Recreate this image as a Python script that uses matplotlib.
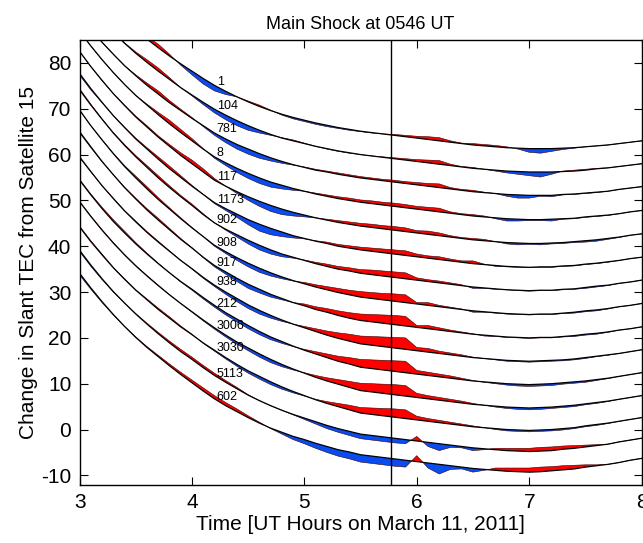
import matplotlib
matplotlib.use("Agg")
import matplotlib.pyplot as plt
import numpy as np

plt.rcParams['font.family'] = ['Liberation Sans', 'DejaVu Sans']
plt.rcParams['axes.unicode_minus'] = False

hours = [3.0, 3.1, 3.2, 3.3, 3.4, 3.5, 3.6, 3.7, 3.8, 3.9,
         4.0, 4.1, 4.2, 4.3, 4.4, 4.5, 4.6, 4.7, 4.8, 4.9,
         5.0, 5.1, 5.2, 5.3, 5.4, 5.5, 5.6, 5.7, 5.8, 5.9,
         6.0, 6.1, 6.2, 6.3, 6.4, 6.5, 6.6, 6.7, 6.8, 6.9,
         7.0, 7.1, 7.2, 7.3, 7.4, 7.5, 7.6, 7.7, 7.8, 7.9,
         8.0]

stations = ['1', '104', '781', '8', '117', '1173', '902', '908', '917',
            '938', '212', '3006', '3030', '5113', '602']

# smooth fitted slant TEC curve of each station (vertically stacked)
fit_1 = [100.2, 97.2, 94.4, 91.8, 89.4, 87.2, 85.2, 83.3, 81.5, 79.8,
         78.2, 76.6, 75.1, 73.8, 72.6, 71.5, 70.5, 69.6, 68.8, 68.1,
         67.5, 66.9, 66.4, 65.9, 65.5, 65.1, 64.8, 64.5, 64.2, 63.9,
         63.6, 63.3, 63.0, 62.7, 62.4, 62.1, 61.9, 61.7, 61.5, 61.4,
         61.3, 61.3, 61.3, 61.4, 61.5, 61.7, 61.9, 62.1, 62.4, 62.7, 63.0]
fit_104 = [95.2, 92.2, 89.4, 86.8, 84.3, 82.1, 80.1, 78.2, 76.4, 74.6,
           73.0, 71.4, 69.9, 68.6, 67.4, 66.3, 65.3, 64.4, 63.6, 63.0,
           62.4, 61.8, 61.3, 60.8, 60.4, 60.0, 59.7, 59.4, 59.1, 58.8,
           58.5, 58.2, 57.9, 57.6, 57.3, 57.0, 56.8, 56.6, 56.4, 56.3,
           56.2, 56.2, 56.2, 56.3, 56.4, 56.6, 56.9, 57.1, 57.4, 57.7, 58.0]
fit_781 = [90.4, 87.4, 84.5, 81.9, 79.4, 77.2, 75.1, 73.2, 71.3, 69.6,
           67.9, 66.3, 64.7, 63.4, 62.2, 61.2, 60.2, 59.3, 58.5, 57.8,
           57.2, 56.6, 56.2, 55.7, 55.3, 54.9, 54.6, 54.3, 54.0, 53.7,
           53.4, 53.1, 52.8, 52.5, 52.2, 51.9, 51.7, 51.5, 51.3, 51.2,
           51.1, 51.1, 51.1, 51.3, 51.4, 51.6, 51.8, 52.0, 52.4, 52.7, 53.0]
fit_8 = [86.9, 83.7, 80.7, 77.9, 75.3, 72.9, 70.8, 68.7, 66.7, 64.8,
         63.0, 61.2, 59.5, 58.2, 57.0, 55.9, 54.9, 54.0, 53.3, 52.6,
         52.0, 51.4, 50.9, 50.4, 50.0, 49.6, 49.3, 49.0, 48.7, 48.4,
         48.1, 47.8, 47.5, 47.2, 46.9, 46.6, 46.4, 46.2, 46.0, 45.9,
         45.8, 45.8, 45.9, 46.0, 46.1, 46.4, 46.6, 46.8, 47.1, 47.5, 47.8]
fit_117 = [82.5, 79.2, 76.2, 73.3, 70.7, 68.2, 66.0, 63.8, 61.8, 59.8,
           58.0, 56.2, 54.4, 53.1, 51.9, 50.8, 49.8, 48.9, 48.1, 47.4,
           46.8, 46.2, 45.7, 45.2, 44.8, 44.4, 44.1, 43.8, 43.5, 43.2,
           42.9, 42.6, 42.3, 42.0, 41.7, 41.4, 41.2, 41.0, 40.8, 40.7,
           40.6, 40.6, 40.7, 40.8, 41.0, 41.2, 41.4, 41.7, 42.0, 42.4, 42.7]
fit_1173 = [77.7, 74.4, 71.4, 68.5, 65.9, 63.4, 61.2, 59.0, 56.9, 55.0,
            53.1, 51.3, 49.5, 48.2, 47.0, 45.8, 44.8, 43.9, 43.1, 42.3,
            41.7, 41.1, 40.6, 40.0, 39.6, 39.2, 38.9, 38.6, 38.3, 38.0,
            37.7, 37.4, 37.1, 36.8, 36.5, 36.2, 36.0, 35.8, 35.6, 35.5,
            35.4, 35.5, 35.5, 35.7, 35.8, 36.1, 36.3, 36.6, 36.9, 37.3, 37.6]
fit_902 = [74.1, 70.8, 67.7, 64.7, 62.0, 59.5, 57.2, 54.9, 52.8, 50.8,
           48.9, 46.9, 45.1, 43.7, 42.5, 41.3, 40.2, 39.2, 38.3, 37.6,
           36.9, 36.2, 35.6, 35.0, 34.6, 34.1, 33.8, 33.5, 33.2, 32.9,
           32.6, 32.3, 32.0, 31.7, 31.4, 31.1, 30.9, 30.7, 30.5, 30.4,
           30.3, 30.4, 30.4, 30.6, 30.7, 31.0, 31.3, 31.5, 31.9, 32.2, 32.6]
fit_908 = [69.7, 66.3, 63.2, 60.2, 57.4, 54.9, 52.5, 50.2, 48.1, 46.0,
           44.0, 42.1, 40.2, 38.8, 37.5, 36.3, 35.2, 34.2, 33.3, 32.5,
           31.8, 31.1, 30.5, 29.9, 29.4, 28.9, 28.6, 28.3, 28.0, 27.7,
           27.4, 27.1, 26.8, 26.5, 26.2, 25.9, 25.7, 25.5, 25.3, 25.2,
           25.1, 25.2, 25.2, 25.4, 25.6, 25.9, 26.1, 26.4, 26.8, 27.1, 27.5]
fit_917 = [65.0, 61.7, 58.5, 55.6, 52.8, 50.3, 47.9, 45.7, 43.6, 41.5,
           39.6, 37.6, 35.8, 34.4, 33.0, 31.7, 30.6, 29.5, 28.6, 27.7,
           27.0, 26.2, 25.6, 24.9, 24.3, 23.8, 23.5, 23.2, 22.9, 22.6,
           22.3, 22.0, 21.7, 21.4, 21.1, 20.8, 20.6, 20.4, 20.2, 20.1,
           20.0, 20.1, 20.1, 20.3, 20.5, 20.8, 21.0, 21.3, 21.7, 22.0, 22.4]
fit_938 = [59.5, 56.3, 53.2, 50.4, 47.7, 45.3, 43.0, 40.9, 38.9, 36.9,
           35.1, 33.2, 31.5, 30.0, 28.6, 27.2, 26.0, 24.9, 23.9, 23.0,
           22.2, 21.4, 20.6, 19.9, 19.3, 18.7, 18.4, 18.1, 17.8, 17.5,
           17.2, 16.9, 16.6, 16.3, 16.0, 15.7, 15.5, 15.3, 15.1, 15.0,
           14.9, 15.0, 15.1, 15.2, 15.4, 15.7, 16.0, 16.3, 16.6, 17.0, 17.4]
fit_212 = [54.4, 51.2, 48.2, 45.4, 42.9, 40.5, 38.3, 36.2, 34.2, 32.3,
           30.6, 28.8, 27.1, 25.5, 24.1, 22.7, 21.4, 20.2, 19.2, 18.2,
           17.3, 16.5, 15.7, 14.9, 14.3, 13.6, 13.3, 13.0, 12.7, 12.4,
           12.1, 11.8, 11.5, 11.2, 10.9, 10.6, 10.4, 10.2, 10.0, 9.9,
           9.8, 9.9, 10.0, 10.2, 10.4, 10.6, 10.9, 11.2, 11.6, 12.0, 12.4]
fit_3006 = [49.7, 46.5, 43.5, 40.7, 38.1, 35.7, 33.5, 31.4, 29.4, 27.5,
            25.7, 23.9, 22.2, 20.6, 19.1, 17.8, 16.5, 15.3, 14.2, 13.2,
            12.3, 11.4, 10.6, 9.9, 9.2, 8.5, 8.2, 7.9, 7.6, 7.3,
            7.0, 6.7, 6.4, 6.1, 5.8, 5.5, 5.3, 5.1, 4.9, 4.8,
            4.7, 4.8, 4.9, 5.1, 5.3, 5.6, 5.9, 6.2, 6.6, 7.0, 7.4]
fit_3030 = [44.2, 41.0, 38.1, 35.3, 32.8, 30.4, 28.3, 26.2, 24.3, 22.4,
            20.7, 18.9, 17.3, 15.7, 14.2, 12.8, 11.6, 10.4, 9.3, 8.3,
            7.4, 6.5, 5.7, 5.0, 4.3, 3.6, 3.3, 3.0, 2.7, 2.4,
            2.1, 1.8, 1.5, 1.2, 0.9, 0.6, 0.4, 0.2, 0.0, -0.1,
            -0.2, -0.1, 0.0, 0.2, 0.4, 0.8, 1.1, 1.4, 1.8, 2.2, 2.6]
fit_5113 = [39.1, 35.9, 32.9, 30.1, 27.6, 25.2, 23.0, 20.9, 18.9, 17.0,
            15.3, 13.5, 11.8, 10.3, 8.9, 7.5, 6.3, 5.2, 4.2, 3.3,
            2.5, 1.7, 0.9, 0.2, -0.4, -1.0, -1.3, -1.6, -1.9, -2.2,
            -2.5, -2.8, -3.1, -3.4, -3.7, -4.0, -4.2, -4.4, -4.6, -4.7,
            -4.8, -4.7, -4.6, -4.3, -4.1, -3.8, -3.5, -3.2, -2.7, -2.3, -1.9]
fit_602 = [34.1, 30.9, 27.9, 25.1, 22.5, 20.1, 17.9, 15.9, 13.9, 12.0,
           10.2, 8.4, 6.7, 5.2, 3.9, 2.6, 1.4, 0.3, -0.6, -1.5,
           -2.2, -3.0, -3.7, -4.4, -4.9, -5.5, -5.8, -6.1, -6.4, -6.7,
           -7.0, -7.3, -7.6, -7.9, -8.2, -8.5, -8.7, -8.9, -9.1, -9.2,
           -9.3, -9.2, -9.0, -8.8, -8.6, -8.2, -7.9, -7.6, -7.2, -6.7, -6.3]

# deviation of the observed TEC from the fit (red above, blue below)
dev_1 = [0, 0, 0, 0, 0, 0.1, 0.5, 0.8, 0.4, -0.3,
         -0.8, -1.2, -1.2, -0.7, 0.0, 0.2, 0.3, 0.1, -0.2, -0.3,
         -0.3, -0.3, -0.3, -0.2, -0.2, -0.1, -0.1, 0.0, 0.2, 0.3,
         0.4, 0.6, 0.7, 0.3, 0.1, 0.3, 0.3, 0.3, 0.2, -0.2,
         -0.8, -1.0, -0.6, -0.3, -0.1, 0, 0, 0, 0, 0, 0]
dev_104 = [0, 0, 0, 0, 0.1, 0.3, 0.6, 0.7, 0.4, 0.0,
           -0.2, -0.5, -0.8, -1.0, -1.1, -1.0, -0.6, -0.2, 0.1, 0.2,
           0.1, 0.0, -0.1, -0.1, -0.1, 0.0, 0.0, 0.1, 0.2, 0.3,
           0.4, 0.6, 0.8, 0.3, 0.1, 0.2, 0.0, -0.2, -0.4, -0.6,
           -0.8, -1.1, -0.5, 0.1, 0.2, 0.2, 0.1, 0, 0, 0, 0]
dev_781 = [0, 0, 0, 0, 0, 0.2, 0.5, 0.7, 0.5, 0.3,
           0.2, -0.2, -0.5, -0.8, -1.0, -1.1, -1.0, -0.7, -0.4, -0.1,
           0.1, 0.2, 0.2, 0.3, 0.3, 0.3, 0.3, 0.3, 0.4, 0.4,
           0.5, 0.6, 0.8, 0.3, 0.2, 0.3, 0.1, 0.0, -0.4, -0.7,
           -0.6, -0.2, -0.3, -0.1, -0.1, -0.1, -0.1, 0, 0, 0, 0]
dev_8 = [0, 0, 0, 0, 0, 0, 0.2, 0.5, 0.8, 0.7,
         0.5, 0.1, -0.3, -0.6, -0.9, -1.1, -1.2, -1.1, -0.8, -0.4,
         0.0, 0.2, 0.3, 0.4, 0.5, 0.5, 0.6, 0.6, 0.7, 0.7,
         0.6, 0.7, 0.8, 0.3, 0.2, 0.3, 0.2, -0.2, -0.5, -0.4,
         -0.2, -0.2, -0.4, -0.1, -0.1, -0.1, -0.1, -0.1, 0, 0, 0]
dev_117 = [0, 0, -0.1, 0, 0.1, 0.2, 0.3, 0.3, 0.4, 0.6,
           0.8, 0.7, 0.4, 0.0, -0.4, -0.8, -1.1, -1.3, -1.2, -0.8,
           -0.4, 0.0, 0.2, 0.4, 0.5, 0.6, 0.7, 0.7, 0.8, 0.8,
           0.5, 0.7, 0.6, 0.3, 0.2, 0.3, 0.3, 0.0, -0.3, -0.4,
           -0.2, -0.3, -0.2, -0.2, -0.2, -0.3, -0.3, -0.2, -0.1, 0, 0]
dev_1173 = [-0.4, -0.3, -0.1, 0, 0.1, 0.2, 0.3, 0.5, 0.6, 0.4,
            0.2, 0.0, -0.2, -0.4, -0.7, -1.1, -1.5, -1.4, -1.0, -0.5,
            -0.1, 0.1, 0.3, 0.4, 0.5, 0.6, 0.7, 0.8, 0.9, 1.0,
            0.6, 0.5, 0.6, 0.4, 0.3, 0.6, 0.1, -0.2, -0.1, -0.1,
            -0.1, -0.1, -0.1, -0.1, -0.1, -0.1, -0.1, -0.1, 0, 0, 0]
dev_902 = [0.3, 0.2, 0.1, 0.1, 0.2, 0.3, 0.4, 0.5, 0.4, 0.3,
           0.3, 0.2, 0.0, -0.2, -0.5, -0.8, -1.0, -0.9, -0.6, -0.2,
           0.1, 0.3, 0.5, 0.6, 0.7, 0.8, 1.0, 1.1, 1.2, 1.3,
           0.5, 0.4, 0.4, 0.3, 0.2, -0.3, -0.1, -0.1, 0.0, -0.1,
           -0.1, -0.1, -0.1, -0.1, -0.1, -0.2, -0.2, -0.1, 0, 0, 0]
dev_908 = [0, 0, 0, 0.1, 0.2, 0.4, 0.5, 0.4, 0.3, 0.2,
           0.1, 0.0, -0.2, -0.4, -0.6, -0.8, -0.9, -0.7, -0.4, -0.1,
           0.3, 0.5, 0.7, 0.9, 1.0, 1.2, 1.3, 1.4, 1.6, 1.7,
           0.3, 0.6, 0.3, 0.2, 0.1, -0.3, -0.1, -0.1, -0.1, -0.1,
           -0.1, -0.1, -0.1, -0.1, -0.2, -0.2, -0.2, -0.1, 0, 0, 0]
dev_917 = [-0.3, -0.2, -0.1, 0, 0.1, 0.2, 0.3, 0.4, 0.3, 0.2,
           0.1, -0.1, -0.3, -0.5, -0.7, -0.9, -0.8, -0.6, -0.3, 0.0,
           0.4, 0.6, 0.8, 1.0, 1.2, 1.4, 1.6, 1.8, 2.0, 2.1,
           0.4, 0.7, 0.5, 0.3, 0.2, 0.1, -0.2, -0.1, -0.1, -0.1,
           -0.1, -0.1, -0.1, -0.1, -0.2, -0.2, -0.2, -0.1, 0, 0, 0]
dev_938 = [-0.2, -0.1, 0, 0.1, 0.1, 0.2, 0.2, 0.2, 0.1, 0.0,
           -0.1, -0.2, -0.3, -0.5, -0.7, -0.8, -0.8, -0.6, -0.3, 0.0,
           0.3, 0.6, 0.9, 1.2, 1.5, 1.7, 1.9, 2.1, 2.3, 2.5,
           0.7, 0.8, 0.5, 0.4, 0.3, 0.1, 0.0, -0.1, -0.2, -0.2,
           -0.2, -0.2, -0.2, -0.2, -0.2, -0.2, -0.1, -0.1, 0, 0, 0]
dev_212 = [0.2, 0.2, 0.3, 0.4, 0.4, 0.3, 0.2, 0.1, 0.0, -0.1,
           -0.2, -0.3, -0.4, -0.5, -0.6, -0.7, -0.7, -0.6, -0.4, -0.1,
           0.2, 0.5, 0.8, 1.1, 1.4, 1.7, 1.9, 2.1, 2.3, 2.5,
           0.8, 0.7, 0.6, 0.5, 0.3, 0.1, -0.1, -0.2, -0.3, -0.4,
           -0.4, -0.4, -0.4, -0.3, -0.3, -0.3, -0.2, -0.1, 0, 0, 0]
dev_3006 = [0.1, 0.1, 0.1, 0.1, 0.1, 0.1, 0.1, 0.1, 0.0, 0.0,
            -0.1, -0.2, -0.3, -0.4, -0.5, -0.6, -0.7, -0.7, -0.5, -0.2,
            0.1, 0.4, 0.7, 1.0, 1.3, 1.6, 1.8, 2.0, 2.2, 2.3,
            0.9, 0.7, 0.6, 0.5, 0.4, 0.2, 0.0, -0.2, -0.3, -0.4,
            -0.4, -0.4, -0.3, -0.3, -0.3, -0.2, -0.2, -0.1, 0, 0, 0]
dev_3030 = [0.2, 0.2, 0.2, 0.1, 0.1, 0.1, 0.2, 0.3, 0.3, 0.2,
            0.1, -0.1, -0.2, -0.3, -0.4, -0.5, -0.6, -0.6, -0.5, -0.3,
            -0.1, 0.1, 0.4, 0.7, 1.0, 1.2, 1.4, 1.6, 1.8, 1.9,
            0.8, 0.6, 0.5, 0.4, 0.3, 0.2, 0.0, -0.2, -0.3, -0.3,
            -0.3, -0.3, -0.3, -0.3, -0.2, -0.2, -0.2, -0.1, 0, 0, 0]
dev_5113 = [-0.3, -0.3, -0.2, -0.1, 0.0, 0.1, 0.2, 0.3, 0.4, 0.5,
            0.5, 0.5, 0.5, 0.4, 0.3, 0.1, 0.0, 0.0, 0.0, -0.1,
            -0.3, -0.5, -0.7, -0.8, -0.9, -1.0, -1.0, -1.0, -1.0, -0.9,
            1.0, -0.9, -1.5, -0.5, -0.3, -0.6, -0.2, 0.3, 0.5, 0.6,
            0.7, 0.8, 0.8, 0.7, 0.6, 0.4, 0.2, 0, 0, 0, 0]
dev_602 = [-0.4, -0.3, -0.2, -0.1, 0.0, 0.1, 0.2, 0.3, 0.4, 0.5,
           0.6, 0.7, 0.7, 0.7, 0.6, 0.4, 0.2, -0.1, -0.4, -0.7,
           -0.9, -1.1, -1.3, -1.4, -1.5, -1.6, -1.6, -1.6, -1.6, -1.5,
           1.3, -1.1, -2.1, -0.8, -0.4, -0.8, -0.2, 0.5, 0.7, 0.8,
           0.9, 1.0, 0.9, 0.9, 0.8, 0.5, 0.2, 0, 0, 0, 0]

fits = [fit_1, fit_104, fit_781, fit_8, fit_117, fit_1173, fit_902, fit_908,
        fit_917, fit_938, fit_212, fit_3006, fit_3030, fit_5113, fit_602]
deviations = [dev_1, dev_104, dev_781, dev_8, dev_117, dev_1173, dev_902,
              dev_908, dev_917, dev_938, dev_212, dev_3006, dev_3030,
              dev_5113, dev_602]

label_hour = 4.22
label_y = [75.9, 70.7, 65.5, 60.3, 55.2, 50.1, 45.7, 40.8, 36.4, 32.1,
           27.5, 22.6, 17.7, 12.2, 7.1]

shock_hour = 5.767

fig = plt.figure(figsize=(6.43, 5.43), dpi=100)
ax = fig.add_axes([0.1238, 0.1077, 0.874, 0.8186])

t = np.array(hours)
for name, fit_vals, dev, ly in zip(stations, fits, deviations, label_y):
    fit = np.array(fit_vals)
    data = fit + np.array(dev)
    ax.fill_between(t, fit, data, where=data >= fit, interpolate=True,
                    facecolor='#ff0000', edgecolor='none')
    ax.fill_between(t, fit, data, where=data <= fit, interpolate=True,
                    facecolor='#0a4cf0', edgecolor='none')
    ax.plot(t, data, color='#330000', lw=0.4)
    ax.plot(t, fit, color='black', lw=0.9)
    ax.text(label_hour, ly, name, fontsize=9, ha='left', va='center')

ax.axvline(shock_hour, color='black', lw=1.0)

ax.set_xlim(3, 8)
ax.set_ylim(-12, 85)
ax.set_xticks([3, 4, 5, 6, 7, 8])
ax.set_yticks([-10, 0, 10, 20, 30, 40, 50, 60, 70, 80])
ax.tick_params(direction='in', top=True, right=True, length=6, width=0.8,
               labelsize=15, pad=6)
for s in ax.spines.values():
    s.set_linewidth(1.0)
ax.set_title('Main Shock at 0546 UT', fontsize=13, pad=8)
ax.set_xlabel('Time [UT Hours on March 11, 2011]', fontsize=15, labelpad=2)
ax.set_ylabel('Change in Slant TEC from Satellite 15', fontsize=15, labelpad=2)

fig.savefig('out.png', dpi=100)
